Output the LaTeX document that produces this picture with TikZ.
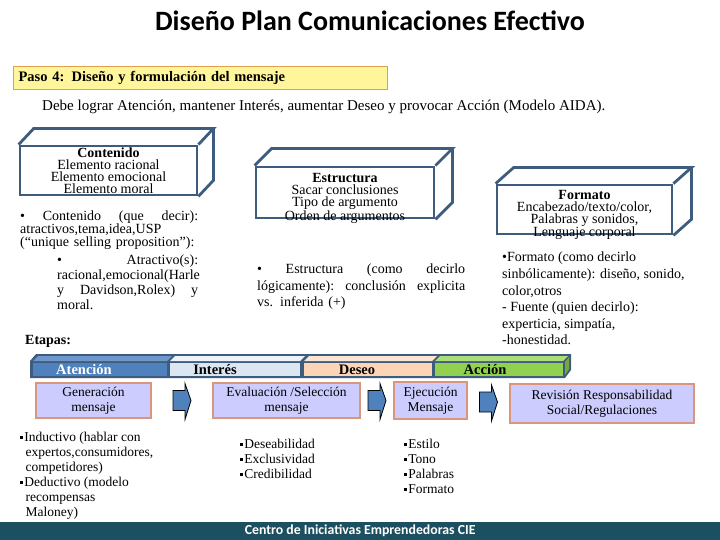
\documentclass[tikz,border=0pt]{standalone}
\usepackage{fontspec}
\setmainfont{Liberation Serif}
\newfontfamily\calibrifont{Carlito}
\usepackage{xcolor}
\usetikzlibrary{calc}

\definecolor{cubeline}{HTML}{3E5C7E}
\definecolor{pasofill}{HTML}{FFF59A}
\definecolor{pasoline}{HTML}{E0A050}
\definecolor{lavfill}{HTML}{CCCCFF}
\definecolor{lavline}{HTML}{D9967A}
\definecolor{atencol}{HTML}{4F81BD}
\definecolor{atentop}{HTML}{6F97CC}
\definecolor{intecol}{HTML}{DCE6F2}
\definecolor{intetop}{HTML}{EEF3FA}
\definecolor{deseocol}{HTML}{FBD5B5}
\definecolor{deseotop}{HTML}{FDE5D2}
\definecolor{accioncol}{HTML}{92D050}
\definecolor{acciontop}{HTML}{ADDC7A}
\definecolor{accionside}{HTML}{76A83E}
\definecolor{footcol}{HTML}{1C4F60}

% small square bullet
\newcommand{\sqb}{\raisebox{2.5pt}{\rule{2.6pt}{2.6pt}}\hspace{1.5pt}}

% top and side faces of a box node
\newcommand{\cubesides}[3]{%
  \draw[cubeedge] (#1.north west) -- ++(#2,#3) -- ([shift={(#2,#3)}]#1.north east) -- (#1.north east)
    ([shift={(#2,#3)}]#1.north east) -- ([shift={(#2,#3)}]#1.south east) -- (#1.south east);}

\begin{document}
\begin{tikzpicture}[
    x=1pt, y=-1pt,
    font=\fontsize{14}{15}\selectfont,
    cube/.style={
        draw=cubeline,
        line width=2.8pt,
        fill=white,
        inner sep=0pt
    },
    cubetext/.style={
        align=center,
        inner sep=0pt,
        font=\fontsize{14}{12}\selectfont
    },
    cubeedge/.style={
        draw=cubeline,
        line width=2.8pt,
        line join=miter
    },
    pasobox/.style={
        draw=pasoline,
        fill=pasofill,
        line width=1pt,
        text width=364pt,
        inner xsep=5pt,
        minimum height=23pt,
        align=left,
        font=\fontsize{14.5}{15}\selectfont\bfseries
    },
    bultext/.style={
        anchor=north west,
        inner sep=0pt,
        align=left
    },
    lavbox/.style={
        draw=lavline,
        fill=lavfill,
        line width=1.2pt,
        align=center,
        inner sep=0pt,
        font=\fontsize{13.5}{15}\selectfont
    },
    stagelbl/.style={
        inner sep=0pt,
        font=\fontsize{14.5}{15}\selectfont\bfseries
    },
    blockarrow/.pic={
        \filldraw[fill=atencol, draw=black, line width=0.8pt, line join=miter]
            (-9,-10) -- (3,-10) -- (3,-17) -- (9,0) -- (3,19) -- (3,10) -- (-9,10) -- cycle;
    }
]
\useasboundingbox (0,0) rectangle (720,540);

% ==================== heading ====================
\node[font=\calibrifont\bfseries\fontsize{28}{32}\selectfont] (title) at (370,21)
{Diseño Plan Comunicaciones Efectivo};

\node[pasobox, anchor=north west] (paso) at (13,66)
{Paso 4: Diseño y formulación del mensaje};

\node[anchor=west, inner sep=0pt, font=\fontsize{15}{16}\selectfont] (aida) at (42,107)
{Debe lograr Atención, mantener Interés, aumentar Deseo y provocar Acción (Modelo AIDA).};

% ==================== boxes ====================
\node[cube, minimum width=177pt, minimum height=49pt] (cont) at (108.5,170.5) {};
\cubesides{cont}{15}{-16}
\node[cubetext] (conttext) at ([yshift=-0.5pt]cont.center)
{\textbf{Contenido}\\Elemento racional\\Elemento emocional\\Elemento moral};

\node[cube, minimum width=178pt, minimum height=51pt] (estr) at (345,192.5) {};
\cubesides{estr}{17}{-17}
\node[cubetext] (estrtext) at ([yshift=-6pt]estr.center)
{\textbf{Estructura}\\Sacar conclusiones\\Tipo de argumento\\Orden de argumentos};

\node[cube, minimum width=175pt, minimum height=49pt] (form) at (584.5,209.5) {};
\cubesides{form}{18}{-16}
\node[cubetext] (formtext) at ([yshift=-5.5pt]form.center)
{\textbf{Formato}\\Encabezado/texto/color,\\Palabras y sonidos,\\Lenguaje corporal};

% ==================== notes ====================
\node[bultext, text width=178pt, font=\fontsize{14}{13}\selectfont] (contnote) at (20,211)
{\textbullet\hfill Contenido\hfill (que\hfill decir):\\
atractivos,tema,idea,USP\\
(“unique selling proposition”):};

\node[bultext, text width=141pt, font=\fontsize{14}{15}\selectfont] (atranote) at (57,254.5)
{\textbullet\hfill Atractivo(s):\\
racional,emocional(Harle\\
y\hfill Davidson,Rolex)\hfill y\\
moral.};

\node[bultext, text width=208pt, font=\fontsize{14}{16.5}\selectfont] (estrnote) at (257,264)
{\textbullet\hfill Estructura\hfill (como\hfill decirlo\\
lógicamente):\hfill conclusión\hfill explicita\\
vs. inferida (+)};

\node[bultext, font=\fontsize{14}{16.6}\selectfont] (formnote) at (502,252)
{•Formato (como decirlo\\
sinbólicamente): diseño, sonido,\\
color,otros\\
- Fuente (quien decirlo):\\
experticia, simpatía,\\
-honestidad.};

\node[anchor=west, inner sep=0pt, font=\fontsize{14}{15}\selectfont\bfseries] (etapas) at (25,341) {Etapas:};

% ==================== stages bar ====================
\fill[cubeline] (30,361) -- (36,354) -- (571,354) -- (571,370) -- (565,378) -- (30,378) -- cycle;
\fill[atentop]   (33,361) -- (38,356) -- (172,356) -- (167,361) -- cycle;
\fill[intetop]   (170,361) -- (175,356) -- (305,356) -- (300,361) -- cycle;
\fill[deseotop]  (304,361) -- (309,356) -- (437,356) -- (432,361) -- cycle;
\fill[acciontop] (435,361) -- (440,356) -- (568,356) -- (563,361) -- cycle;
\fill[accionside] (565,362) -- (569,357) -- (569,369) -- (565,375) -- cycle;
\fill[atencol]   (33,363) rectangle (167,376);
\fill[intecol]   (170,363) rectangle (300,376);
\fill[deseocol]  (304,363) rectangle (432,376);
\fill[accioncol] (435,363) rectangle (563,376);

\node[stagelbl, text=white] (aten) at (84,369.5) {Atención};
\node[stagelbl] (inte) at (215,369.5) {Interés};
\node[stagelbl] (deseo) at (357,369.5) {Deseo};
\node[stagelbl] (accion) at (485,370) {Acción};

% ==================== steps ====================
\node[lavbox, minimum width=115pt, minimum height=35pt] (gen) at (93.5,400.5) {Generación\\mensaje};
\node[lavbox, minimum width=147pt, minimum height=35pt] (eval) at (286.5,400.5) {Evaluación /Selección\\mensaje};
\node[lavbox, minimum width=73pt, minimum height=37pt] (ejec) at (430.5,400.5) {Ejecución\\Mensaje};
\node[lavbox, minimum width=184pt, minimum height=39pt] (revi) at (602,403.5) {Revisión Responsabilidad\\Social/Regulaciones};

\pic at ($(gen.east)!0.5!(eval.west)$) {blockarrow};
\pic at ($(eval.east)!0.5!(ejec.west)$) {blockarrow};
\pic at ($(ejec.east)!0.5!(revi.west)$) {blockarrow};

\node[bultext, font=\fontsize{13.5}{15}\selectfont] (genlist) at (20,432)
{\sqb Inductivo (hablar con\\
\hspace*{5.5pt}expertos,consumidores,\\
\hspace*{5.5pt}competidores)\\
\sqb Deductivo (modelo\\
\hspace*{5.5pt}recompensas\\
\hspace*{5.5pt}Maloney)};

\node[bultext, font=\fontsize{13.5}{15}\selectfont] (evallist) at (240,439)
{\sqb Deseabilidad\\\sqb Exclusividad\\\sqb Credibilidad};

\node[bultext, font=\fontsize{13.5}{15}\selectfont] (ejeclist) at (404,439)
{\sqb Estilo\\\sqb Tono\\\sqb Palabras\\\sqb Formato};

% ==================== footer ====================
\node[fill=footcol, text=white, minimum width=720pt, minimum height=18pt, inner sep=0pt,
      anchor=south west, font=\calibrifont\bfseries\fontsize{13.8}{14}\selectfont] (foot) at (0,540)
{Centro de Iniciativas Emprendedoras CIE};

\end{tikzpicture}
\end{document}
